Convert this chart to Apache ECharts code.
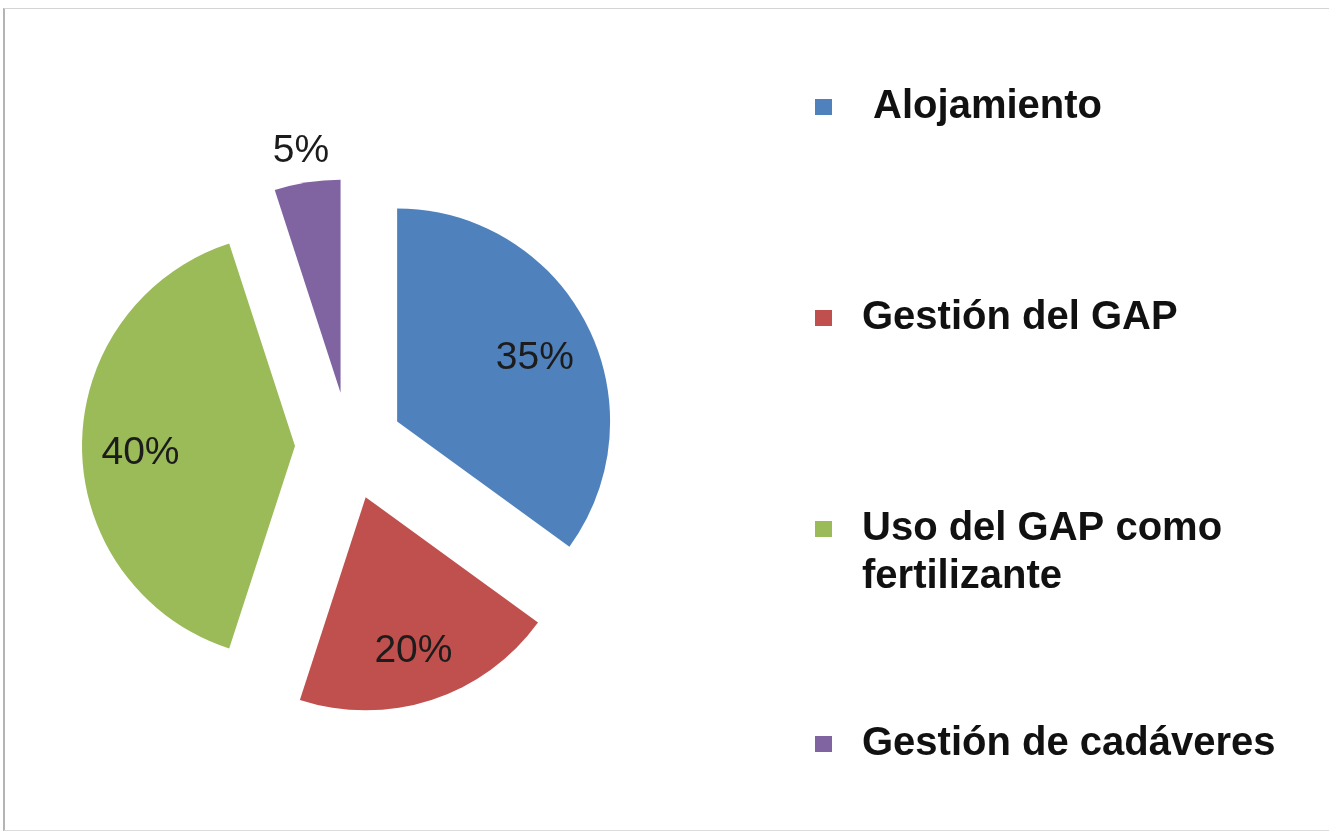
<!DOCTYPE html>
<html>
<head>
<meta charset="utf-8">
<script src="https://cdn.jsdelivr.net/npm/echarts@6/dist/echarts.min.js"></script>
<style>
html,body{margin:0;padding:0;background:#fff;overflow:hidden;}
#c{position:absolute;left:0;top:0;width:1329px;height:832px;}
#frame{position:absolute;left:3px;top:8px;width:1340px;height:821px;border-left:2px solid #b4b4b4;border-top:1px solid #d4d4d4;border-bottom:1px solid #dcdcdc;pointer-events:none;}
</style>
</head>
<body>
<div id="c"></div>
<div id="frame"></div>
<script>
// ---- data ----
const categories = [' Alojamiento', 'Gestión del GAP', 'Uso del GAP como fertilizante', 'Gestión de cadáveres'];
const values = [35, 20, 40, 5];
const palette = ['#4F81BD', '#C0504D', '#9BBB59', '#8064A2'];

// ---- layout ----
const CENTER = [349, 446];
const R = 213;
const OFFSET = 54;
const legendTops = [83, 294, 457, 720];

const chart = echarts.init(document.getElementById('c'), null, {renderer: 'canvas'});

const mainData = values.map((v, i) => ({
  name: categories[i],
  value: v,
  selected: true,
  itemStyle: {color: palette[i]}
}));

const labelData = values.map((v, i) => {
  const item = {name: categories[i], value: v, selected: true};
  if (i === 3) {
    item.label = {position: 'outside', distanceToLabelLine: -28};
    item.labelLine = {show: false, length: 39, length2: 0};
  }
  return item;
});

const legends = categories.map((name, i) => {
  const wrap = i === 2;
  const ts = {
    fontFamily: 'Liberation Sans, Arial, sans-serif',
    fontWeight: 'bold',
    fontSize: 40,
    color: '#111111',
    lineHeight: 48,
    padding: [0, 0, 0, 25]
  };
  if (wrap) { ts.width = 380; ts.overflow = 'break'; }
  return {
    orient: 'vertical',
    left: 815,
    top: legendTops[i],
    padding: 0,
    selectedMode: false,
    icon: 'rect',
    itemWidth: 17,
    itemHeight: 16,
    data: [name],
    // wrapped entry: an empty leading line keeps the marker level with the first text line
    formatter: wrap ? (n => '\n' + n) : undefined,
    textStyle: ts
  };
});

chart.setOption({
  animation: false,
  backgroundColor: '#ffffff',
  legend: legends,
  series: [
    {
      type: 'pie',
      center: CENTER,
      radius: [0, R],
      startAngle: 90,
      clockwise: true,
      selectedMode: 'multiple',
      selectedOffset: OFFSET,
      avoidLabelOverlap: false,
      silent: true,
      label: {show: false},
      labelLine: {show: false},
      emphasis: {disabled: true},
      data: mainData
    },
    {
      type: 'pie',
      center: CENTER,
      radius: [90, R],
      startAngle: 90,
      clockwise: true,
      selectedMode: 'multiple',
      selectedOffset: OFFSET,
      avoidLabelOverlap: false,
      silent: true,
      percentPrecision: 0,
      itemStyle: {color: 'rgba(0,0,0,0)', borderWidth: 0},
      emphasis: {disabled: true},
      label: {
        show: true,
        position: 'inside',
        formatter: '{d}%',
        fontFamily: 'Liberation Sans, Arial, sans-serif',
        fontSize: 39,
        color: '#1c1c1c'
      },
      labelLayout: {dy: 7},
      labelLine: {show: false},
      data: labelData
    }
  ]
});
</script>
</body>
</html>
